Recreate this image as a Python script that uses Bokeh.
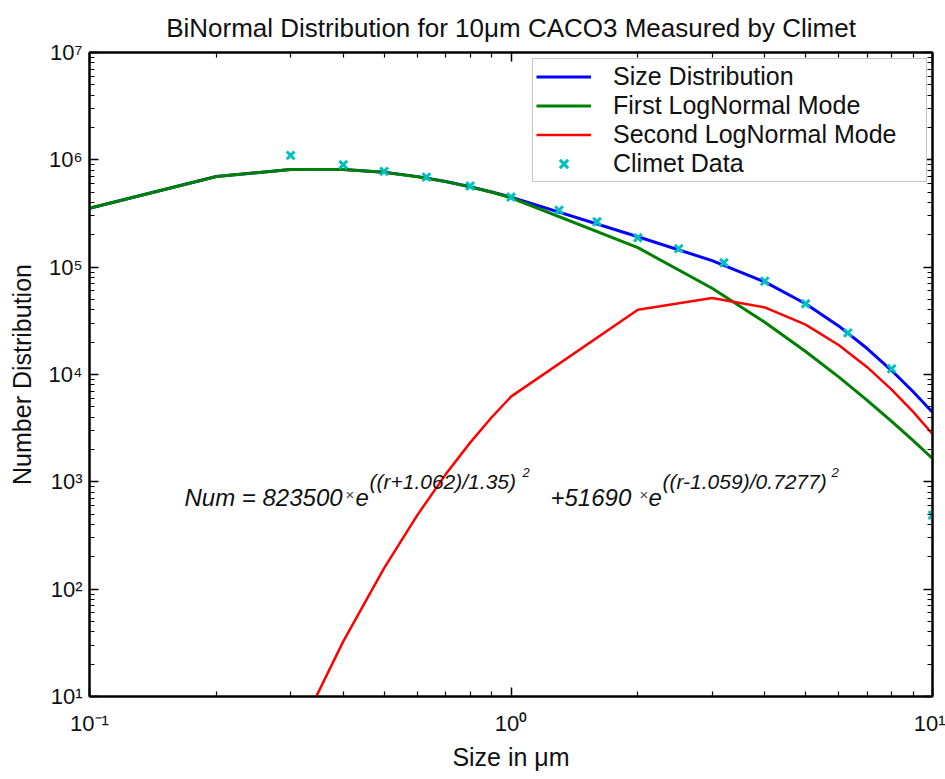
from bokeh.plotting import figure
from bokeh.models import (LogAxis, FixedTicker, CustomJSTickFormatter, Legend,
                          LegendItem, Range1d)
from bokeh.core.properties import value
from bokeh.embed import file_html
from bokeh.resources import INLINE

# ---------------- data ----------------
sizes = [0.1, 0.2, 0.3, 0.4, 0.5, 0.6, 0.7, 0.8, 0.9, 1.0,
         2.0, 3.0, 4.0, 5.0, 6.0, 7.0, 8.0, 9.0, 10.0]
size_distribution = [353900, 698600, 814400, 814000, 764400, 697600, 628000,
                     562000, 502400, 449700, 192000, 115100, 72940, 45570,
                     28190, 17450, 10890, 6900, 4440]
first_mode = [353900, 698600, 814400, 814000, 764300, 697100, 626800,
              559700, 498400, 443500, 151900, 63560, 30710, 16400,
              9440, 5750, 3660, 2420, 1650]
second_mode = [0.00003, 0.075, 3.26, 32.6, 156.9, 492, 1174, 2319, 3995,
               6218, 40150, 51540, 42220, 29170, 18750, 11700, 7230, 4480, 2790]
climet_sizes = [0.3, 0.4, 0.5, 0.63, 0.8, 1.0, 1.3, 1.6, 2.0, 2.5, 3.2,
                4.0, 5.0, 6.3, 8.0, 10.0]
climet_counts = [1.10e6, 9.0e5, 7.8e5, 6.9e5, 5.7e5, 4.5e5, 3.4e5, 2.65e5,
                 1.88e5, 1.49e5, 1.10e5, 7.4e4, 4.56e4, 2.44e4, 1.13e4, 490]

x_major_ticks = [0.1, 1, 10]
x_minor_ticks = [0.2, 0.3, 0.4, 0.5, 0.6, 0.7, 0.8, 0.9,
                 2, 3, 4, 5, 6, 7, 8, 9]
y_major_ticks = [1e1, 1e2, 1e3, 1e4, 1e5, 1e6, 1e7]
y_minor_ticks = [m * d for d in [1e1, 1e2, 1e3, 1e4, 1e5, 1e6]
                 for m in [2, 3, 4, 5, 6, 7, 8, 9]]

series_names = ["Size Distribution", "First LogNormal Mode",
                "Second LogNormal Mode", "Climet Data"]
title_text = "BiNormal Distribution for 10\u03bcm CACO3 Measured by Climet"
x_label = "Size in \u03bcm"
y_label = "Number Distribution"
equation_parts = ["Num = 823500", "\u00d7", "e", "((r+1.062)/1.35)", "2",
                  "+51690", "\u00d7", "e", "((r-1.059)/0.7277)", "2"]

FONT = "Liberation Sans"

# ---------------- figure ----------------
W, H = 945, 779
L, R, T, B = 89, 13, 52, 83
p = figure(width=W, height=H, x_axis_type="log", y_axis_type="log",
           x_range=Range1d(0.1, 10), y_range=Range1d(10, 1e7),
           output_backend="svg", toolbar_location=None,
           min_border_left=L, min_border_right=R, min_border_top=T,
           min_border_bottom=B, title=title_text)
p.xgrid.visible = False
p.ygrid.visible = False
p.background_fill_color = "white"
p.border_fill_color = "white"
p.outline_line_color = "black"
p.outline_line_width = 2

p.title.text_font = FONT
p.title.text_font_size = "26px"
p.title.text_font_style = "normal"
p.title.text_color = "#111111"
p.title.align = "center"
p.title.standoff = 19

sup_code = """
const sup = {"-":"\u207b","0":"\u2070","1":"\u00b9","2":"\u00b2","3":"\u00b3",
             "4":"\u2074","5":"\u2075","6":"\u2076","7":"\u2077","8":"\u2078","9":"\u2079"};
const e = Math.round(Math.log10(tick));
return "10" + String(e).split("").map(c => sup[c]).join("");
"""
blank_code = "return '';"


def style_axis(ax, ticks, minor, labelled):
    ax.ticker = FixedTicker(ticks=ticks, minor_ticks=minor)
    ax.axis_line_width = 2
    ax.axis_line_color = "black"
    ax.major_tick_in = 9
    ax.major_tick_out = 0
    ax.minor_tick_in = 5
    ax.minor_tick_out = 0
    ax.major_tick_line_width = 1.5
    ax.minor_tick_line_width = 1.2
    ax.major_tick_line_color = "black"
    ax.minor_tick_line_color = "black"
    if labelled:
        ax.formatter = CustomJSTickFormatter(code=sup_code)
        ax.major_label_text_font = FONT
        ax.major_label_text_font_size = "22px"
        ax.major_label_text_color = "#111111"
    else:
        ax.formatter = CustomJSTickFormatter(code=blank_code)
        ax.major_label_text_font_size = "1px"
        ax.major_label_standoff = 0


xa = p.xaxis[0]
ya = p.yaxis[0]
style_axis(xa, x_major_ticks, x_minor_ticks, True)
style_axis(ya, y_major_ticks, y_minor_ticks, True)
xa.major_label_standoff = 14
ya.major_label_standoff = 7
xa.axis_label = x_label
ya.axis_label = y_label
for ax in (xa, ya):
    ax.axis_label_text_font = FONT
    ax.axis_label_text_font_size = "25px"
    ax.axis_label_text_font_style = "normal"
    ax.axis_label_text_color = "#111111"
xa.axis_label_standoff = 4
ya.axis_label_standoff = 10

top_ax = LogAxis()
right_ax = LogAxis()
style_axis(top_ax, x_major_ticks, x_minor_ticks, False)
style_axis(right_ax, y_major_ticks, y_minor_ticks, False)
p.add_layout(top_ax, "above")
p.add_layout(right_ax, "right")

# ---------------- data glyphs ----------------
r_total = p.line(sizes, size_distribution, line_color="#0000ff", line_width=3)
r_first = p.line(sizes, first_mode, line_color="#008000", line_width=3)
r_second = p.line(sizes, second_mode, line_color="#ff0000", line_width=2.5)
r_data = p.scatter(climet_sizes, climet_counts, marker="x", size=11,
                   line_width=3, line_color="#00bfbf")

# ---------------- equation annotation ----------------
FX0, FX1, FY0, FY1 = L, W - R, T, H - B


def to_data(px, py):
    lx = -1 + 2.0 * (px - FX0) / (FX1 - FX0)
    ly = 7 - 6.0 * (py - FY0) / (FY1 - FY0)
    return 10 ** lx, 10 ** ly


eq_layout = [  # (x px, baseline px, font size, style, colour)
    (184, 497, "24px", "italic", "#111111"),
    (345, 494, "15px", "normal", "#444444"),
    (355, 497, "24px", "italic", "#111111"),
    (369, 481, "21px", "italic", "#111111"),
    (522, 472, "13px", "italic", "#111111"),
    (550, 497, "24px", "italic", "#111111"),
    (639, 494, "15px", "normal", "#444444"),
    (648, 497, "24px", "italic", "#111111"),
    (662, 481, "21px", "italic", "#111111"),
    (831, 472, "13px", "italic", "#111111"),
]
for txt, (px, py, fs, st, col) in zip(equation_parts, eq_layout):
    xd, yd = to_data(px, py)
    p.text(x=[xd], y=[yd], text=[txt], text_font=value(FONT),
           text_font_size=value(fs), text_font_style=st, text_color=col,
           text_align="left", text_baseline="alphabetic")

# ---------------- legend ----------------
legend = Legend(items=[
    LegendItem(label=series_names[0], renderers=[r_total]),
    LegendItem(label=series_names[1], renderers=[r_first]),
    LegendItem(label=series_names[2], renderers=[r_second]),
    LegendItem(label=series_names[3], renderers=[r_data]),
], location=(443, 514))
legend.margin = 0
legend.padding = 3
legend.spacing = 0
legend.glyph_width = 55
legend.glyph_height = 29
legend.label_height = 29
legend.label_standoff = 22
legend.label_width = 310
legend.label_text_font = FONT
legend.label_text_font_size = "25px"
legend.label_text_color = "#111111"
legend.border_line_color = "#8c8c8c"
legend.border_line_width = 1.5
legend.background_fill_color = "white"
legend.background_fill_alpha = 1
p.add_layout(legend)

open("out.html", "w").write(file_html(p, INLINE))
